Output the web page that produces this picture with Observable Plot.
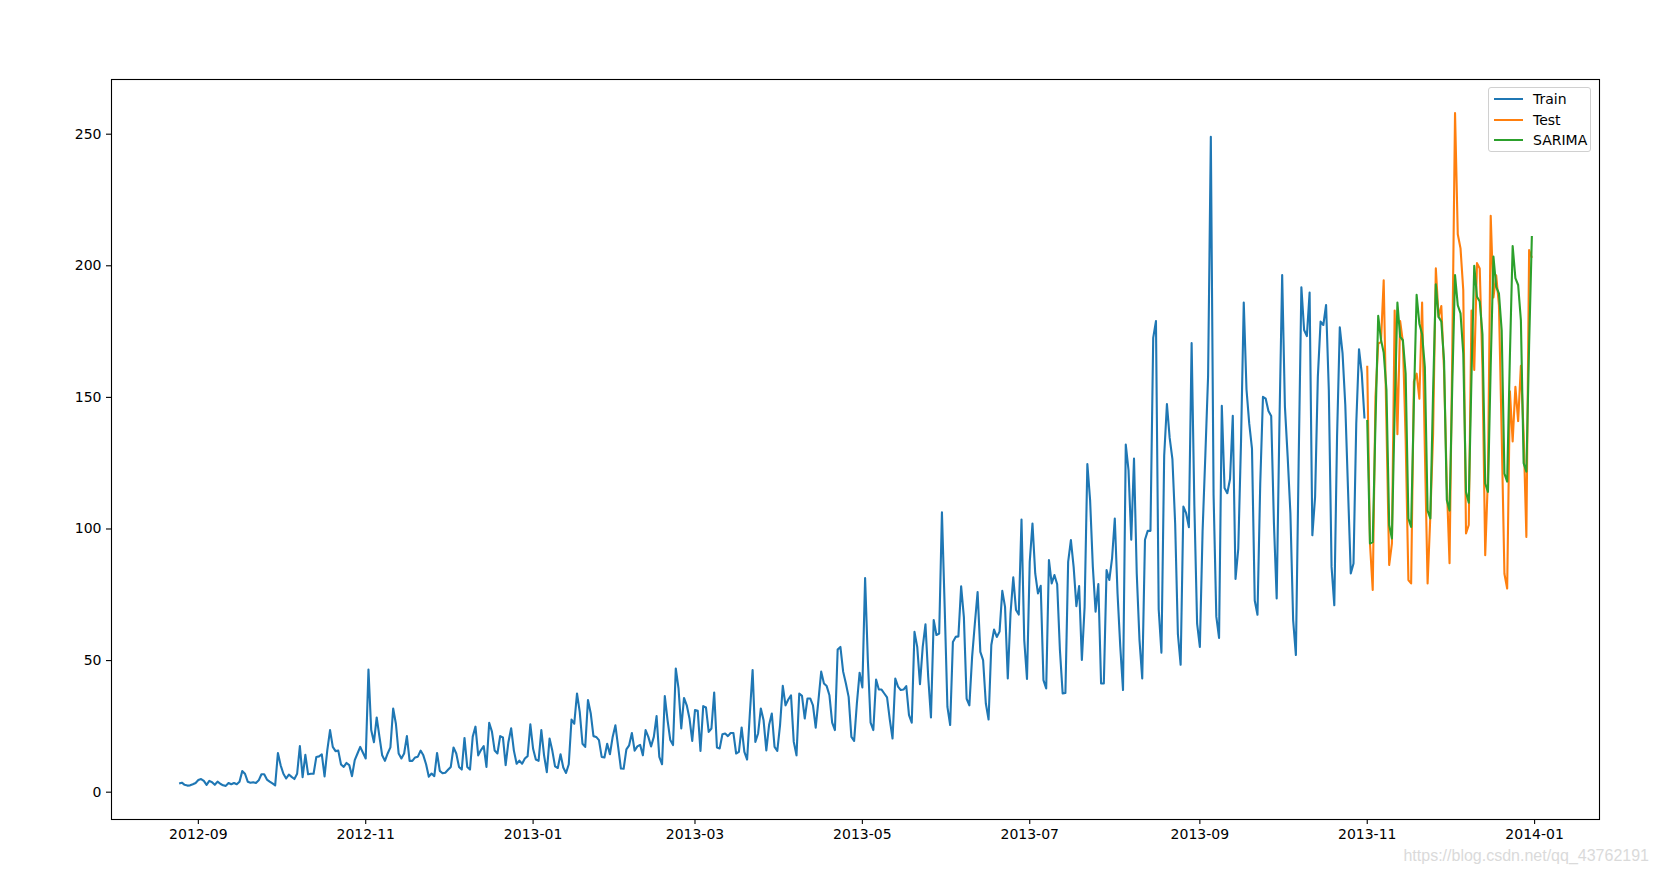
<!DOCTYPE html>
<html>
<head>
<meta charset="utf-8">
<script src="https://cdn.jsdelivr.net/npm/d3@7"></script>
<script src="https://cdn.jsdelivr.net/npm/@observablehq/plot@0.6"></script>
<style>
  html, body { margin: 0; padding: 0; background: #ffffff; }
  #wrap { position: relative; width: 1658px; height: 877px; font-family: "DejaVu Sans", sans-serif; }
  #legend { position: absolute; left: 1488px; top: 87px; width: 103px; height: 65px; box-sizing: border-box;
            border: 1px solid #d0d0d0; border-radius: 3px; background: rgba(255,255,255,0.8); }
  .item { position: absolute; left: 0; height: 20px; width: 100%; }
  .sw { position: absolute; left: 5px; top: 9px; width: 29px; height: 2px; }
  .lab { position: absolute; left: 44px; top: 1px; font-size: 14px; line-height: 18px; color: #000; white-space: nowrap; }
  #mark { position: absolute; right: 9px; top: 847px; font-family: "Liberation Sans", Arial, sans-serif; font-size: 16px;
          color: #dadada; white-space: nowrap; }
</style>
</head>
<body>
<div id="wrap">
  <div id="chart"></div>
  <div id="legend"></div>
  <div id="mark">https://blog.csdn.net/qq_43762191</div>
</div>
<script>
// ---------- data ----------
const seriesNames = ["Train", "Test", "SARIMA"];
const seriesColors = ["#1f77b4", "#ff7f0e", "#2ca02c"];

const trainStart = "2012-08-25";
const trainValues = [
  3.3, 3.6, 2.8, 2.5, 2.6, 3.0, 3.5,
  4.6, 5.0, 4.3, 2.8, 4.3, 3.8, 2.8, 4.0, 3.2, 2.6, 2.4, 3.5, 3.0, 3.5, 3.0, 4.0, 8.0, 7.0, 4.0, 3.6, 3.8, 3.5, 4.5, 6.8, 6.8, 4.8, 4.0, 3.3, 2.6,
  14.9, 10.2, 7.0, 5.2, 6.7, 5.8, 5.0, 7.0, 17.5, 5.7, 14.2, 6.8, 7.0, 7.0, 13.4, 13.6, 14.4, 6.0, 16.0, 23.6, 17.2, 15.6, 15.8, 10.5, 9.6, 11.1, 10.3, 6.1, 12.2, 14.7, 17.2, 15.0, 12.8,
  46.6, 23.6, 19.0, 28.4, 21.1, 14.0, 11.9, 14.7, 17.0, 31.8, 26.0, 14.7, 12.8, 14.7, 21.3, 11.9, 11.9, 13.2, 13.5, 15.8, 14.0, 10.6, 5.9, 7.1, 6.1, 14.9, 8.1, 7.2, 7.4, 8.5,
  9.6, 17.0, 14.7, 9.6, 8.6, 20.6, 9.6, 8.6, 21.1, 24.9, 14.0, 16.0, 17.5, 9.6, 26.4, 23.0, 15.8, 14.7, 21.3, 20.8, 10.3, 19.0, 24.3, 15.8, 10.8, 12.0, 10.8, 12.8, 13.7, 25.8,
  16.5, 12.4, 11.9, 23.6, 14.0, 7.6, 20.4, 15.8, 9.8, 9.2, 14.4, 9.4, 7.3, 10.6, 27.6, 26.0, 37.5, 30.5, 18.4, 17.2, 35.0, 30.0, 21.3, 21.0, 19.8, 13.4, 13.2, 18.4, 14.4, 21.0, 25.4,
  17.2, 9.0, 8.9, 16.3, 17.8, 22.5, 15.8, 17.4, 18.0, 14.0, 23.6, 21.0, 17.4, 21.0, 28.9, 13.4, 10.6, 36.5, 27.4, 19.8, 17.9, 47.0, 39.4, 24.2, 35.8, 33.0, 28.0, 19.5,
  31.2, 30.9, 15.7, 32.7, 32.2, 22.9, 24.2, 37.9, 17.0, 16.6, 22.0, 22.3, 21.3, 22.5, 22.5, 14.7, 15.3, 24.6, 15.3, 12.4, 29.9, 46.4, 19.1, 22.3, 31.8, 27.3, 15.9, 25.5, 29.9, 17.2, 15.7,
  25.5, 40.4, 33.0, 35.2, 36.8, 19.1, 14.0, 37.5, 36.6, 28.0, 35.6, 35.6, 33.0, 24.5, 35.0, 45.8, 41.3, 40.3, 36.8, 26.4, 23.6, 54.2, 55.2, 45.8, 41.3, 36.2, 21.0, 19.5, 33.7, 45.4, 39.8,
  81.4, 50.2, 26.4, 23.6, 42.8, 39.0, 39.0, 37.5, 36.0, 27.6, 20.4, 43.2, 40.1, 38.8, 39.0, 40.3, 29.3, 26.4, 60.9, 55.2, 41.0, 55.2, 63.8, 43.8, 28.4, 65.4, 59.7, 60.3, 106.3, 70.4,
  32.4, 25.5, 57.1, 59.0, 59.2, 78.2, 66.5, 35.5, 33.0, 51.4, 64.1, 76.0, 53.3, 50.2, 33.7, 27.6, 55.9, 61.8, 59.0, 61.0, 76.5, 70.4, 43.2, 67.9, 81.6, 69.2, 67.5, 103.6, 57.8, 43.0,
  87.5, 102.1, 83.1, 75.5, 78.4, 42.6, 39.4, 88.2, 79.3, 82.5, 79.0, 54.0, 37.5, 37.7, 87.5, 95.8, 85.6, 70.7, 78.3, 50.2, 70.4, 124.7, 111.0, 85.6, 68.6, 79.1, 41.3, 41.3, 84.4, 80.6, 88.8,
  104.0, 75.5, 55.2, 38.8, 132.1, 122.4, 95.9, 126.8, 83.1, 57.8, 43.2, 95.9, 99.3, 99.3, 172.6, 179.0, 69.4, 53.0, 127.8, 147.5, 134.6, 126.5, 102.0, 60.0, 48.4, 108.5, 106.0, 100.7, 170.6, 108.8, 64.0,
  55.2, 99.3, 128.0, 158.0, 249.0, 113.0, 66.7, 58.6, 146.8, 115.6, 113.6, 119.0, 143.0, 81.0, 92.5, 133.0, 186.0, 153.0, 140.0, 130.5, 72.8, 67.4, 117.0, 150.2, 149.5, 144.8, 142.9, 102.0, 73.6, 140.0,
  196.5, 146.5, 127.5, 106.0, 65.4, 52.1, 125.0, 191.8, 175.6, 173.3, 189.8, 97.6, 112.2, 157.8, 178.8, 177.5, 185.1, 152.8, 85.6, 71.0, 135.0, 176.6, 166.8, 147.2, 114.9, 83.1, 86.9, 140.0, 168.3, 159.2, 142.0
];

const testStart = "2013-11-01";
const testValues = [
  162.0, 94.5, 76.8, 150.0, 170.5, 171.0, 194.5, 140.0, 86.3, 94.5, 183.0, 136.0, 179.0, 171.0, 134.0,
  80.6, 79.3, 156.0, 159.0, 149.5, 186.0, 130.0, 79.3, 105.0, 136.0, 199.0, 180.6, 184.7, 160.0, 117.0,
  87.0, 168.0, 258.0, 212.0, 206.6, 190.7, 98.3, 101.5, 183.0, 160.4, 201.0, 199.0, 161.0, 90.0, 120.0,
  219.0, 188.0, 196.4, 185.0, 136.0, 83.0, 77.4, 152.3, 133.3, 154.0, 141.0, 162.0, 136.0, 97.0, 206.0, 203.0
];

const sarimaStart = "2013-11-01";
const sarimaValues = [
  141.4, 94.5, 95.0, 140.0, 181.0, 172.0, 167.0, 153.0, 101.5, 96.4, 145.0, 186.0, 173.0, 171.7, 159.0,
  104.0, 100.8, 148.0, 189.0, 178.0, 174.0, 161.5, 107.0, 104.0, 152.0, 193.0, 180.6, 178.8, 164.0, 111.0,
  107.0, 155.0, 196.5, 185.0, 181.9, 166.7, 114.0, 110.0, 158.0, 200.0, 188.2, 186.4, 174.0, 117.3, 114.1,
  162.0, 203.5, 192.0, 189.5, 175.5, 121.0, 118.0, 166.0, 207.5, 195.3, 192.7, 179.3, 125.0, 121.8, 170.0, 211.3
];

const xTickLabels = ["2012-09", "2012-11", "2013-01", "2013-03", "2013-05", "2013-07", "2013-09", "2013-11", "2014-01"];
const yTickValues = [0, 50, 100, 150, 200, 250];

// ---------- build rows ----------
const parseDay = d3.utcParse("%Y-%m-%d");
const parseMonth = d3.utcParse("%Y-%m");
function rows(start, values, name) {
  const s = parseDay(start);
  return values.map((v, i) => ({ date: d3.utcDay.offset(s, i), value: v, series: name }));
}
const train = rows(trainStart, trainValues, seriesNames[0]);
const test = rows(testStart, testValues, seriesNames[1]);
const sarima = rows(sarimaStart, sarimaValues, seriesNames[2]);
const all = train.concat(test, sarima);

// matplotlib-like 5% margins
const [xa, xb] = d3.extent(all, d => d.date);
const xPad = (xb - xa) * 0.05;
const xDomain = [new Date(+xa - xPad), new Date(+xb + xPad)];
const [ya, yb] = d3.extent(all, d => d.value);
const yPad = (yb - ya) * 0.05;
const yDomain = [ya - yPad, yb + yPad];

const xTicks = xTickLabels.map(parseMonth);
const fmt = d3.utcFormat("%Y-%m");

const lineStyle = { strokeWidth: 2.1, strokeLinejoin: "round", strokeLinecap: "butt" };

const chart = Plot.plot({
  width: 1658,
  height: 877,
  marginLeft: 111,
  marginRight: 59,
  marginTop: 79,
  marginBottom: 58,
  style: { fontFamily: "DejaVu Sans, sans-serif", fontSize: "14px", background: "#ffffff", color: "#000000", overflow: "visible" },
  x: { type: "utc", domain: xDomain },
  y: { domain: yDomain },
  marks: [
    Plot.lineY(train, { x: "date", y: "value", stroke: seriesColors[0], ...lineStyle }),
    Plot.lineY(test, { x: "date", y: "value", stroke: seriesColors[1], ...lineStyle }),
    Plot.lineY(sarima, { x: "date", y: "value", stroke: seriesColors[2], ...lineStyle }),
    Plot.frame({ stroke: "#000000", strokeWidth: 1.1 }),
    Plot.axisX(xTicks, { tickSize: 5, tickPadding: 5, tickFormat: fmt, label: null, fontSize: 14, stroke: "#000", strokeWidth: 1.1 }),
    Plot.axisY(yTickValues, { tickSize: 5, tickPadding: 5, label: null, fontSize: 14, stroke: "#000", strokeWidth: 1.1 })
  ]
});
document.getElementById("chart").appendChild(chart);

// ---------- legend ----------
const legend = document.getElementById("legend");
const rowTops = [0, 20.5, 41];
seriesNames.forEach((name, i) => {
  const it = document.createElement("div");
  it.className = "item";
  it.style.top = (rowTops[i] + 1) + "px";
  const sw = document.createElement("div");
  sw.className = "sw";
  sw.style.background = seriesColors[i];
  const lb = document.createElement("div");
  lb.className = "lab";
  lb.textContent = name;
  it.appendChild(sw);
  it.appendChild(lb);
  legend.appendChild(it);
});
</script>
</body>
</html>
